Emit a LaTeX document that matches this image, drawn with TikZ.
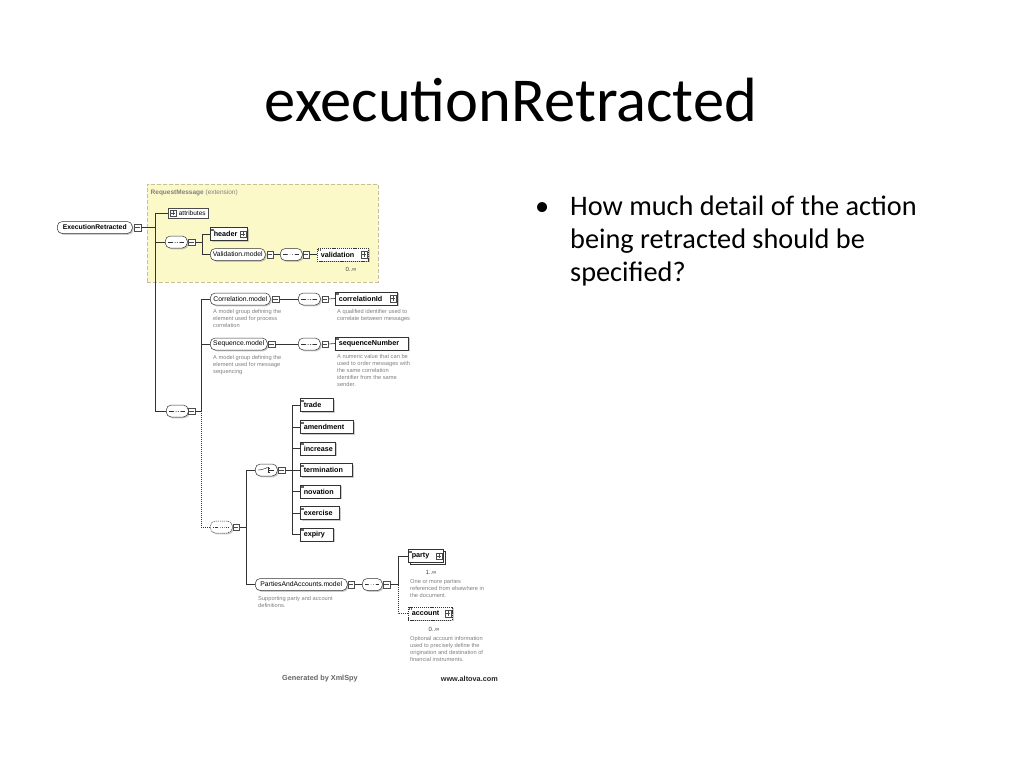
\documentclass[tikz,border=0pt]{standalone}
\usepackage{fontspec}
\setmainfont{Carlito}
\newfontfamily\dfont{Liberation Sans}
\usetikzlibrary{shadows}
\definecolor{yfill}{RGB}{252,249,200}
\definecolor{yborder}{RGB}{200,192,150}
\tikzset{
 ln/.style={draw=black!80, line width=0.6pt},
 dln/.style={draw=black!80, line width=0.6pt, dash pattern=on 1pt off 1pt},
 shad/.style={drop shadow={shadow xshift=1.3pt, shadow yshift=-1.3pt, fill=black!40}},
 elem/.style={draw=black!80, fill=white, line width=0.5pt, inner ysep=0pt, inner xsep=3.5pt, align=left, minimum height=13,
   font=\dfont\bfseries\fontsize{7.2}{8}\selectfont, shad,
   path picture={\draw[line width=0.3pt, black!60] ([xshift=1pt,yshift=-1.3pt]path picture bounding box.north west) -- ++(2.5,0)
     ([xshift=1pt,yshift=-2.6pt]path picture bounding box.north west) -- ++(2.5,0);}},
 optional/.style={dash pattern=on 1.2pt off 0.9pt},
 model/.style={draw=black!80, fill=white, line width=0.5pt, rounded corners=5, inner sep=0pt, minimum height=12,
   font=\dfont\fontsize{6.8}{8}\selectfont, shad},
 seqc/.style={draw=black!80, fill=white, line width=0.5pt, rounded corners=5, inner sep=0pt, minimum height=12, minimum width=22, shad,
   path picture={\draw[line width=0.7pt] ([xshift=3pt]path picture bounding box.west) -- ([xshift=-3pt]path picture bounding box.east);
     \foreach \d in {-2.4,0,2.4} \fill ([xshift=\d pt]path picture bounding box.center) circle (1.15pt);}},
 choicec/.style={draw=black!80, fill=white, line width=0.5pt, rounded corners=5, inner sep=0pt, minimum height=12, minimum width=22, shad,
   path picture={\draw[line width=0.5pt] ([xshift=3pt]path picture bounding box.west) -- ([xshift=-3pt]path picture bounding box.center) -- ([xshift=1pt,yshift=2.5pt]path picture bounding box.center);
     \draw[line width=0.5pt] ([xshift=1.5pt,yshift=3pt]path picture bounding box.center) -- ([xshift=1.5pt,yshift=-3pt]path picture bounding box.center);
     \foreach \d in {-2,0,2} \draw[line width=0.5pt] ([xshift=1.5pt,yshift=\d pt]path picture bounding box.center) -- ++(2.5,0);
     \draw[line width=0.5pt] ([xshift=4pt]path picture bounding box.center) -- ([xshift=-3pt]path picture bounding box.east);}},
 minusbox/.style={draw=black!70, fill=white, line width=0.5pt, minimum size=6.5, inner sep=0pt,
   path picture={\draw[line width=0.4pt] ([xshift=1.2pt]path picture bounding box.west) -- ([xshift=-1.2pt]path picture bounding box.east);}},
 plusbox/.style={draw=black!70, fill=white, line width=0.5pt, minimum size=6.5, inner sep=0pt,
   path picture={\draw[line width=0.4pt] ([xshift=1.2pt]path picture bounding box.west) -- ([xshift=-1.2pt]path picture bounding box.east)
     ([yshift=1.2pt]path picture bounding box.south) -- ([yshift=-1.2pt]path picture bounding box.north);}},
 desc/.style={anchor=north west, align=left, inner sep=0pt, text=black!50, font=\dfont\fontsize{5.7}{7}\selectfont},
 occ/.style={inner sep=0pt, text=black!75, font=\dfont\fontsize{6}{7}\selectfont},
 bul/.style={anchor=base west, inner sep=0pt, font=\fontsize{28.3}{34}\selectfont},
}
\begin{document}
\begin{tikzpicture}[x=1pt,y=-1pt]
\useasboundingbox (0,0) rectangle (1024,768);
\fill[white] (0,0) rectangle (1024,768);

% title and bullet
\node[font=\fontsize{62.5}{70}\selectfont, inner sep=0pt] (title) at (511,100) {executionRetracted};
\node[bul] (dot) at (535,215) {•};
\node[bul] (l1) at (570,215) {How much detail of the action};
\node[bul] (l2) at (570,248) {being retracted should be};
\node[bul] (l3) at (570,281.5) {specified?};

% RequestMessage extension box
\node[draw=yborder, fill=yfill, line width=0.8pt, dash pattern=on 4pt off 2pt, minimum width=231, minimum height=98, inner sep=0pt, anchor=north west] (rm) at (147,184) {};
\node[anchor=west, inner sep=0pt, text=black!50, font=\dfont\fontsize{6.5}{8}\selectfont] (rmlabel) at (150.5,193) {\textbf{RequestMessage} (extension)};

% root
\node[model, font=\dfont\bfseries\fontsize{6.8}{8}\selectfont, minimum width=75, anchor=west] (er) at (57,227.5) {ExecutionRetracted};
\node[minusbox] (erm) at (137.5,227.5) {};
\coordinate (j1) at (155,0);

% attributes
\node[draw=black!70, fill=white, line width=0.5pt, minimum width=40, minimum height=9.5, inner sep=0pt, anchor=west,
  font=\dfont\fontsize{6.5}{8}\selectfont] (attr) at (168,213) {\hspace{8pt}attributes};
\node[plusbox, minimum size=5.5] (attrp) at (173,213) {};

% first sequence (inside extension)
\node[seqc, anchor=west] (s1) at (165,242) {};
\node[minusbox] (s1m) at (191.5,242) {};
\coordinate (j2) at (202,0);
\node[elem, text width=30, anchor=west] (hdr) at (210,234) {header};
\node[plusbox] (hdrp) at ([xshift=-4.5pt]hdr.east) {};
\node[model, minimum width=55, anchor=west] (vm) at (210,254.5) {Validation.model};
\node[minusbox] (vmm) at (270,254.5) {};
\node[seqc, anchor=west] (s2) at (280,254.5) {};
\node[minusbox] (s2m) at (306,254.5) {};
\node[elem, optional, text width=44, anchor=west] (val) at (317,254.5) {validation};
\node[plusbox] (valp) at ([xshift=-4.5pt]val.east) {};
\node[occ] (valocc) at (351,269.5) {0..∞};

% correlation / sequence models
\node[model, minimum width=60, anchor=west] (cm) at (210,299) {Correlation.model};
\node[minusbox] (cmm) at (275.5,299) {};
\node[seqc, anchor=west] (s4) at (298,299) {};
\node[minusbox] (s4m) at (325,299) {};
\node[elem, text width=55, anchor=west] (cid) at (335,298.5) {correlationId};
\node[plusbox] (cidp) at ([xshift=-4.5pt]cid.east) {};
\node[desc] (cmd) at (213,309) {A model group defining the\\element used for process\\correlation};
\node[desc] (cidd) at (337,309) {A qualified identifier used to\\correlate between messages};

\node[model, minimum width=57, anchor=west] (sm) at (210,344) {Sequence.model};
\node[minusbox] (smm) at (271.5,344) {};
\node[seqc, anchor=west] (s5) at (298,344) {};
\node[minusbox] (s5m) at (325,344) {};
\node[elem, text width=66, anchor=west] (sn) at (335,343.5) {sequenceNumber};
\node[desc] (smd) at (213,355) {A model group defining the\\element used for message\\sequencing};
\node[desc] (snd) at (337,354) {A numeric value that can be\\used to order messages with\\the same correlation\\identifier from the same\\sender.};

\coordinate (j3) at (201,0);
\node[seqc, anchor=west] (s3) at (166,411) {};
\node[minusbox] (s3m) at (191.5,411) {};

% optional sequence
\node[seqc, optional, anchor=west] (s6) at (210,527) {};
\node[minusbox] (s6m) at (236,527) {};
\coordinate (j4) at (246,0);
\node[choicec, anchor=west] (ch) at (255,470) {};
\node[minusbox] (chm) at (281.5,470) {};
\coordinate (j5) at (292,0);
\node[elem, text width=26, anchor=west] (trade) at (300,405) {trade};
\node[elem, text width=46, anchor=west] (amend) at (300,427) {amendment};
\node[elem, text width=28, anchor=west] (incr) at (300,448.5) {increase};
\node[elem, text width=45, anchor=west] (term) at (300,470) {termination};
\node[elem, text width=33, anchor=west] (nov) at (300,491.5) {novation};
\node[elem, text width=32, anchor=west] (exer) at (300,513) {exercise};
\node[elem, text width=26, anchor=west] (expi) at (300,534.5) {expiry};

% parties and accounts
\node[model, minimum width=92, anchor=west] (pam) at (255,584.5) {PartiesAndAccounts.model};
\node[minusbox] (pamm) at (351,584.5) {};
\node[desc] (pamd) at (258,596) {Supporting party and account\\definitions.};
\node[seqc, minimum width=20, anchor=west] (s7) at (362,584.5) {};
\node[minusbox] (s7m) at (386.5,584.5) {};
\coordinate (j6) at (398,0);
\node[elem, text width=28, anchor=west, copy shadow={shadow xshift=2pt, shadow yshift=-2pt}] (party) at (408,556) {party};
\node[plusbox] (partyp) at ([xshift=-4.5pt]party.east) {};
\node[occ] (partyocc) at (431,572) {1..∞};
\node[desc] (partyd) at (410,579) {One or more parties\\referenced from elsewhere in\\the document.};
\node[elem, optional, text width=37, anchor=west] (acc) at (408,613.5) {account};
\node[plusbox] (accp) at ([xshift=-4.5pt]acc.east) {};
\node[occ] (accocc) at (434,629) {0..∞};
\node[desc] (accd) at (410,636) {Optional account information\\used to precisely define the\\origination and destination of\\financial instruments.};

% footer
\node[anchor=west, inner sep=0pt, text=black!60, font=\dfont\bfseries\fontsize{7.3}{9}\selectfont] (gen) at (282,679) {Generated by XmlSpy};
\node[anchor=east, inner sep=0pt, text=black!85, font=\dfont\bfseries\fontsize{7.3}{9}\selectfont] (alt) at (498,679) {www.altova.com};

% connectors
\draw[ln] (erm.east) -- (erm.east -| j1);
\draw[ln] (attr.west) -- (attr.west -| j1) -- (s3.west -| j1) -- (s3.west);
\draw[ln] (s1.west) -- (s1.west -| j1);
\draw[ln] (s1m.east) -- (s1m.east -| j2);
\draw[ln] (hdr.west) -- (hdr.west -| j2) -- (vm.west -| j2) -- (vm.west);
\draw[ln] (vmm.east) -- (s2.west);
\draw[ln] (s2m.east) -- (val.west);
\draw[ln] (cm.west) -- (cm.west -| j3) -- (s3m.east -| j3) -- (s3m.east);
\draw[ln] (sm.west) -- (sm.west -| j3);
\draw[ln] (cmm.east) -- (s4.west);
\draw[ln] (s4m.east) -- (cid.west);
\draw[ln] (smm.east) -- (s5.west);
\draw[ln] (s5m.east) -- (sn.west);
\draw[dln] (s3m.east -| j3) -- (s6.west -| j3) -- (s6.west);
\draw[ln] (s6m.east) -- (s6m.east -| j4);
\draw[ln] (ch.west) -- (ch.west -| j4) -- (pam.west -| j4) -- (pam.west);
\draw[ln] (chm.east) -- (chm.east -| j5);
\draw[ln] (trade.west) -- (trade.west -| j5) -- (expi.west -| j5) -- (expi.west);
\draw[ln] (amend.west) -- (amend.west -| j5);
\draw[ln] (incr.west) -- (incr.west -| j5);
\draw[ln] (term.west) -- (term.west -| j5);
\draw[ln] (nov.west) -- (nov.west -| j5);
\draw[ln] (exer.west) -- (exer.west -| j5);
\draw[ln] (pamm.east) -- (s7.west);
\draw[ln] (s7m.east) -- (s7m.east -| j6);
\draw[ln] (party.west) -- (party.west -| j6) -- (s7m.east -| j6);
\draw[dln] (s7m.east -| j6) -- (acc.west -| j6) -- (acc.west);
\end{tikzpicture}
\end{document}
